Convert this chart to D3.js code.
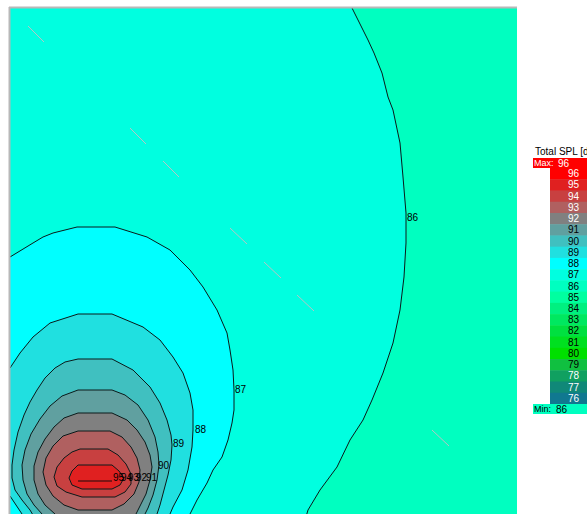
<!DOCTYPE html>
<html>
<head>
<meta charset="utf-8">
<script src="https://cdn.jsdelivr.net/npm/d3@7/dist/d3.min.js"></script>
<style>
  html, body { margin: 0; padding: 0; background: #fff; overflow: hidden; }
  svg { display: block; }
  text { font-family: "Liberation Sans", Arial, sans-serif; font-size: 10px; }
</style>
</head>
<body>
<svg id="chart" width="587" height="514"></svg>
<script>
// Room extent in metres (x to the right, y upward)
const roomX = [0, 50.7];
const roomY = [0, 50.6];

// Legend colour steps, Total SPL in dB
const legendLevels = [96, 95, 94, 93, 92, 91, 90, 89, 88, 87, 86, 85, 84, 83, 82, 81, 80, 79, 78, 77, 76];
const legendColors = ["#ff0000", "#e02020", "#c84040", "#b06060", "#808080", "#60a0a0", "#40c0c0",
  "#20e0e0", "#00ffff", "#00ffe0", "#00ffc0", "#00ffa0", "#00f080", "#00e860", "#00e040",
  "#00e020", "#00e000", "#10c040", "#10a060", "#108878", "#107890"];
const maxSPL = 96;
const minSPL = 86;

// Iso-SPL contour lines, [x, y] in metres
const contour86 = [[34.15,51.0],[34.2,50.6],[34.8,49.4],[35.8,47.4],[36.4,46.1],[37.2,44.1],[37.8,41.7],
  [38.3,40.4],[39.0,37.1],[39.3,33.7],[39.6,30.1],[39.6,27.1],[39.4,23.7],[39.0,20.4],[38.3,17.1],
  [37.3,14.1],[36.2,11.4],[35.3,9.4],[34.0,7.4],[32.7,4.7],[31.0,2.4],[29.8,0.4],[29.5,-0.6]];
const contour87 = [[-0.2,25.7],[0,25.7],[2.3,27.1],[3.3,27.7],[4.3,28.1],[6.7,28.7],[10.5,28.7],[13.7,27.7],
  [16.0,26.4],[18.0,24.4],[19.3,22.7],[20.7,20.4],[21.7,18.1],[22.0,16.4],[22.3,14.4],[22.4,12.4],
  [22.4,10.4],[22.2,9.1],[21.8,7.4],[21.2,5.7],[20.3,4.4],[19.7,3.1],[18.7,1.4],[18.0,0],[17.6,-0.6]];
const contour88 = [[-0.2,14.4],[0,14.6],[1.0,16.1],[2.3,17.7],[4.0,19.1],[6.8,20.0],[10.2,20.0],[13.3,18.7],
  [15.0,17.4],[16.3,15.7],[17.3,14.1],[18.0,12.1],[18.3,10.4],[18.3,8.4],[18.2,6.7],[17.8,4.4],
  [17.2,2.4],[16.3,0.7],[16.0,0],[15.7,-0.8],[9.0,-1.6],[1.6,-0.6],[1.2,0],[0.6,0.9],[0,1.8],[-0.2,2.0]];
const contour89 = [[2.6,-0.6],[2.0,0.4],[1.2,1.4],[0.5,2.4],[0.2,3.6],[0.2,4.9],[0.4,6.4],[0.8,8.2],
  [1.4,9.9],[2.0,11.2],[2.7,12.4],[3.5,13.6],[4.5,14.6],[5.5,15.2],[6.8,15.5],[10.2,15.5],[12.3,14.4],
  [14.0,12.7],[15.0,11.1],[15.7,9.4],[16.1,7.9],[16.2,6.9],[16.1,5.4],[15.8,3.9],[15.4,2.4],[15.0,0.9],
  [14.7,0],[14.5,-0.8]];
const contour90 = [[3.8,-0.8],[3.2,0],[2.4,0.9],[1.7,2.0],[1.3,3.4],[1.2,4.9],[1.5,6.4],[2.1,8.0],[3.0,9.5],
  [4.0,10.8],[5.2,11.8],[6.8,12.4],[10.2,12.4],[11.5,11.9],[12.8,10.9],[13.8,9.4],[14.5,7.7],[14.8,6.2],
  [14.9,4.9],[14.7,3.4],[14.3,1.9],[13.8,0.6],[13.5,0],[13.3,-0.8]];
const contour91 = [[5.2,-0.8],[4.5,0],[3.5,0.9],[2.8,2.0],[2.4,3.4],[2.4,4.8],[2.8,6.2],[3.5,7.5],[4.4,8.7],
  [5.4,9.6],[6.8,10.1],[10.2,10.1],[11.7,9.4],[12.7,8.4],[13.5,7.2],[14.0,5.9],[14.2,4.7],[14.0,3.4],
  [13.6,2.0],[13.0,0.8],[12.6,0],[12.3,-0.8]];
const contour92 = [[6.8,8.3],[10.0,8.3],[11.2,7.7],[12.1,6.7],[12.7,5.6],[13.0,4.4],[12.9,3.2],[12.4,2.0],
  [11.4,1.0],[10.2,0.4],[6.8,0.4],[5.4,0.9],[4.3,1.8],[3.6,2.9],[3.3,4.2],[3.6,5.6],[4.3,6.8],[5.3,7.8]];
const contour93 = [[7.0,6.5],[9.8,6.5],[10.8,5.9],[11.6,5.0],[12.1,4.0],[12.1,3.0],[11.5,2.2],[10.5,1.7],
  [7.2,1.7],[5.6,2.2],[4.7,2.8],[4.4,3.7],[4.7,4.7],[5.4,5.6],[6.2,6.2]];
const contour94 = [[6.8,4.9],[10.2,4.9],[10.9,4.3],[11.4,3.6],[11.0,2.9],[10.2,2.5],[7.2,2.5],[6.2,2.9],
  [5.9,3.6],[6.2,4.3]];
const contour95 = [[6.8,3.3],[10.2,3.3]];

// Contour label anchors (left end of the text), metres
const contourLabels = [
  { level: 86, at: [39.7, 29.7] },
  { level: 87, at: [22.5, 12.5] },
  { level: 88, at: [18.5, 8.5] },
  { level: 89, at: [16.3, 7.1] },
  { level: 90, at: [14.8, 4.9] },
  { level: 95, at: [10.3, 3.7] },
  { level: 94, at: [11.1, 3.7] },
  { level: 93, at: [11.8, 3.7] },
  { level: 92, at: [12.6, 3.7] },
  { level: 91, at: [13.6, 3.7] }
];

// Light grey dashes of the listener line, [x1, y1, x2, y2] in metres
const listenerDashes = [[1.8,48.8,3.4,47.2],[12.0,38.6,13.6,37.0],[15.3,35.3,16.9,33.7],
  [22.0,28.6,23.7,27.0],[25.4,25.2,27.1,23.6],[28.7,21.9,30.4,20.3],[42.2,8.4,43.9,6.8]];

const colorOf = d3.scaleOrdinal().domain(legendLevels).range(legendColors);

const svg = d3.select("#chart");
const plot = { left: 10, top: 8, right: 517, bottom: 514 };

const x = d3.scaleLinear().domain(roomX).range([plot.left, plot.right]);
const y = d3.scaleLinear().domain(roomY).range([plot.bottom, plot.top]);

svg.append("defs").append("clipPath").attr("id", "plotClip")
  .append("rect")
  .attr("x", plot.left).attr("y", plot.top)
  .attr("width", plot.right - plot.left).attr("height", plot.bottom - plot.top);

const g = svg.append("g").attr("clip-path", "url(#plotClip)");

// Corners just outside the room, used to close the filled areas toward the source
const outBL = [roomX[0] - 1, roomY[0] - 1];
const outTL = [roomX[0] - 1, roomY[1] + 1];

const contours = [
  { level: 86, pts: contour86, close: [outBL, outTL], open: true },
  { level: 87, pts: contour87, close: [outBL], open: true },
  { level: 88, pts: contour88, close: [], open: true },
  { level: 89, pts: contour89, close: [], open: true },
  { level: 90, pts: contour90, close: [], open: true },
  { level: 91, pts: contour91, close: [], open: true },
  { level: 92, pts: contour92, close: [], open: false },
  { level: 93, pts: contour93, close: [], open: false },
  { level: 94, pts: contour94, close: [], open: false }
];

const area = d3.line().x(d => x(d[0])).y(d => y(d[1]));

// Background: lowest band
g.append("rect")
  .attr("x", plot.left).attr("y", plot.top)
  .attr("width", plot.right - plot.left).attr("height", plot.bottom - plot.top)
  .attr("fill", colorOf(minSPL));

// Filled bands, each contour filled with the colour of the next step up
g.selectAll("path.band").data(contours).join("path")
  .attr("class", "band")
  .attr("d", c => area(c.pts.concat(c.close)) + "Z")
  .attr("fill", c => colorOf(c.level + 1))
  .attr("stroke", "none");

// Listener line dashes
g.selectAll("line.dash").data(listenerDashes).join("line")
  .attr("class", "dash")
  .attr("x1", d => x(d[0])).attr("y1", d => y(d[1]))
  .attr("x2", d => x(d[2])).attr("y2", d => y(d[3]))
  .attr("stroke", "#b8c4c4").attr("stroke-width", 1);

// Contour lines
g.selectAll("path.iso").data(contours).join("path")
  .attr("class", "iso")
  .attr("d", c => area(c.pts) + (c.open ? "" : "Z"))
  .attr("fill", "none")
  .attr("stroke", "#0a1a1a").attr("stroke-width", 1);

g.append("path")
  .attr("d", area(contour95))
  .attr("fill", "none")
  .attr("stroke", "#1a0a0a").attr("stroke-width", 1);

// Contour labels
g.selectAll("text.clabel").data(contourLabels).join("text")
  .attr("class", "clabel")
  .attr("x", d => x(d.at[0])).attr("y", d => y(d.at[1]))
  .attr("dy", "0.35em")
  .attr("fill", "#000")
  .text(d => d.level);

// Plot frame (top and left edges)
svg.append("line").attr("x1", plot.left - 1).attr("x2", plot.right).attr("y1", plot.top - 0.5).attr("y2", plot.top - 0.5)
  .attr("stroke", "#b8b8b8").attr("stroke-width", 2);
svg.append("line").attr("x1", plot.left - 0.5).attr("x2", plot.left - 0.5).attr("y1", plot.top - 1).attr("y2", plot.bottom)
  .attr("stroke", "#b8b8b8").attr("stroke-width", 2);

// Legend
const leg = svg.append("g");
leg.append("text").attr("x", 535).attr("y", 155).attr("fill", "#000").text("Total SPL [dB]");

leg.append("rect").attr("x", 533).attr("y", 158).attr("width", 54).attr("height", 10)
  .attr("fill", colorOf(maxSPL));
leg.append("text").attr("x", 534).attr("y", 163).attr("dy", "0.35em").attr("fill", "#fff")
  .style("font-size", "9px").text("Max:");
leg.append("text").attr("x", 558).attr("y", 163).attr("dy", "0.35em").attr("fill", "#fff").text(maxSPL);

const band = d3.scaleBand().domain(legendLevels).range([168, 404]);
const whiteText = new Set([96, 95, 94, 93, 92, 78, 77, 76]);

leg.selectAll("rect.step").data(legendLevels).join("rect")
  .attr("class", "step")
  .attr("x", 550).attr("y", d => band(d))
  .attr("width", 37).attr("height", band.bandwidth() + 0.5)
  .attr("fill", d => colorOf(d));

leg.selectAll("text.step").data(legendLevels).join("text")
  .attr("class", "step")
  .attr("x", 579).attr("y", d => band(d) + band.bandwidth() / 2)
  .attr("dy", "0.35em").attr("text-anchor", "end")
  .attr("fill", d => whiteText.has(d) ? "#fff" : "#000")
  .text(d => d);

leg.append("rect").attr("x", 533).attr("y", 404).attr("width", 54).attr("height", 10)
  .attr("fill", colorOf(minSPL));
leg.append("text").attr("x", 534).attr("y", 409).attr("dy", "0.35em").attr("fill", "#000")
  .style("font-size", "9px").text("Min:");
leg.append("text").attr("x", 556).attr("y", 409).attr("dy", "0.35em").attr("fill", "#000").text(minSPL);
</script>
</body>
</html>
